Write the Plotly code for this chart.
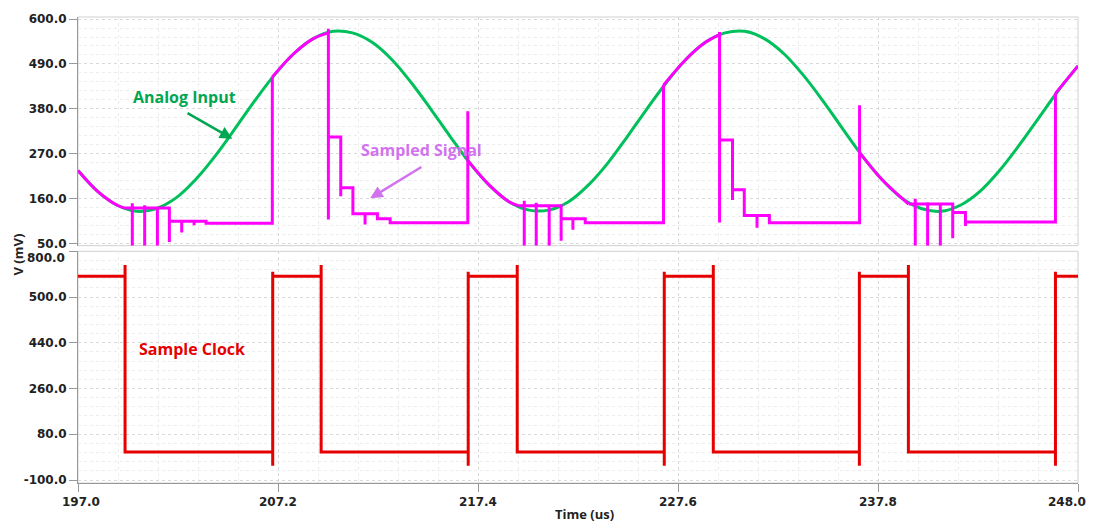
import plotly.graph_objects as go

# ---------------- data ----------------
# Analog input (green), sampled every 1 us
analog_t = list(range(197, 249))
analog_v = [229, 178, 144, 129, 136, 162, 207, 265, 331, 399, 462, 515, 552, 570,
            566, 543, 501, 444, 379, 311, 246, 192, 152, 132, 132, 152, 192, 246,
            311, 379, 444, 501, 543, 566, 570, 552, 515, 462, 399, 331, 265, 207,
            162, 136, 129, 144, 178, 229, 291, 358, 425, 485]

# Sampled signal (magenta): tracking segments (follow the input)
track1_t = [197, 198, 199, 199.4]
track1_v = [229, 178, 144, 137]
track2_t = [206.91, 208, 209, 209.77]
track2_v = [458, 515, 552, 566]
track3_t = [216.88, 218, 219, 219.45]
track3_v = [254, 192, 152, 143]
track4_t = [226.86, 228, 229, 229.72]
track4_v = [438, 501, 543, 562]
track5_t = [236.86, 238, 239, 239.36]
track5_v = [273, 207, 162, 147]
track6_t = [246.85, 247.5, 248]
track6_v = [418, 456, 485]

# Sampled signal: hold segments (steps)
hold1_t = [199.4, 201.66, 201.66, 201.66, 202.29, 202.29, 202.29, 202.92, 202.92,
           202.92, 203.53, 203.53, 206.91, 206.91]
hold1_v = [137, 137, 54, 105, 105, 77, 105, 105, 95, 105, 105, 100, 100, 458]
hold2_t = [209.77, 209.77, 209.77, 209.77, 210.40, 210.40, 210.40, 211.02, 211.02,
           211.64, 211.64, 211.64, 212.27, 212.27, 212.92, 212.92, 216.88, 216.88,
           216.88]
hold2_v = [566, 576, 109, 311, 311, 166, 187, 187, 123, 123, 97, 123, 123, 111,
           111, 101, 101, 374, 254]
hold3_t = [219.45, 221.64, 221.64, 221.64, 222.24, 222.24, 222.24, 222.87, 222.87,
           226.86, 226.86]
hold3_v = [143, 143, 57, 111, 111, 84, 111, 111, 101, 101, 438]
hold4_t = [229.72, 229.72, 229.72, 229.72, 230.38, 230.38, 230.38, 230.98, 230.98,
           231.63, 231.63, 231.63, 232.26, 232.26, 236.86, 236.86, 236.86]
hold4_v = [562, 568, 102, 304, 304, 157, 182, 182, 119, 119, 89, 119, 119, 101,
           101, 389, 273]
hold5_t = [239.36, 241.61, 241.61, 241.61, 242.26, 242.26, 242.26, 246.85, 246.85]
hold5_v = [147, 147, 63, 126, 126, 93, 103, 103, 418]

# Switching spikes during hold
spike_t = [199.77, 200.40, 201.05, 219.76, 220.37, 221.03, 239.70, 240.33, 240.98]
spike_top = [149, 144, 138, 155, 150, 144, 160, 151, 148]
spike_bottom = [45, 45, 45, 45, 45, 45, 45, 45, 45]

# Sample clock (red)
clock_fall = [199.40, 209.40, 219.40, 229.40, 239.35]
clock_rise = [206.93, 216.90, 226.90, 236.85, 246.85]
clock_high = 702
clock_low = 10
clock_fall_peak = 746
clock_rise_peak = 720
clock_rise_dip = -44
t_start, t_end = 197, 248

# Tick labels
time_ticks = [197.0, 207.2, 217.4, 227.6, 237.8, 248.0]
top_ticks = [50, 160, 270, 380, 490, 600]
bottom_ticks = [-100, 80, 260, 440, 620, 800]
bottom_ticktext = ["-100.0", "80.0", "260.0", "440.0", "500.0", ""]

# ---------------- figure ----------------
GREEN = "#00c05c"
MAGENTA = "#ff00ff"
RED = "#e60000"
GRID = "#d9d9d9"
MINOR = "#ececec"

fig = go.Figure()

fig.add_trace(go.Scatter(x=analog_t, y=analog_v, mode="lines",
                         line=dict(color=GREEN, width=3, shape="spline"),
                         xaxis="x", yaxis="y", showlegend=False, hoverinfo="skip"))

for tt, vv in [(track1_t, track1_v), (track2_t, track2_v), (track3_t, track3_v),
               (track4_t, track4_v), (track5_t, track5_v), (track6_t, track6_v)]:
    fig.add_trace(go.Scatter(x=tt, y=vv, mode="lines",
                             line=dict(color=MAGENTA, width=3, shape="spline"),
                             xaxis="x", yaxis="y", showlegend=False, hoverinfo="skip"))

for tt, vv in [(hold1_t, hold1_v), (hold2_t, hold2_v), (hold3_t, hold3_v),
               (hold4_t, hold4_v), (hold5_t, hold5_v)]:
    fig.add_trace(go.Scatter(x=tt, y=vv, mode="lines",
                             line=dict(color=MAGENTA, width=3),
                             xaxis="x", yaxis="y", showlegend=False, hoverinfo="skip"))

sx, sy = [], []
for t, top, bot in zip(spike_t, spike_top, spike_bottom):
    sx += [t, t, None]
    sy += [top, bot, None]
fig.add_trace(go.Scatter(x=sx, y=sy, mode="lines", line=dict(color=MAGENTA, width=3),
                         xaxis="x", yaxis="y", showlegend=False, hoverinfo="skip"))

cx, cy = [t_start], [clock_high]
for f, r in zip(clock_fall, clock_rise):
    cx += [f, f, f, r, r, r, r]
    cy += [clock_high, clock_fall_peak, clock_low, clock_low, clock_rise_dip,
           clock_rise_peak, clock_high]
cx.append(t_end)
cy.append(clock_high)
fig.add_trace(go.Scatter(x=cx, y=cy, mode="lines", line=dict(color=RED, width=3),
                         xaxis="x2", yaxis="y2", showlegend=False, hoverinfo="skip"))

tickfont = dict(family="DejaVu Sans", size=12, color="#222222", weight="bold")

# end labels are placed as annotations (shifted inward like the reference)
x_ticktext = [f"{v:.1f}" for v in time_ticks]
x_ticktext_axis = [""] + x_ticktext[1:-1] + [""]

common_x = dict(range=[t_start, t_end], tickvals=time_ticks,
                showgrid=True, gridcolor=GRID, griddash="dot", gridwidth=1,
                minor=dict(tickmode="linear", tick0=197, dtick=2.04, showgrid=True,
                           gridcolor=MINOR, griddash="dot"),
                zeroline=False, fixedrange=True)

# page body adds an 8px offset: plot area in figure coords is x 70..1070, y 4..475
fig.update_layout(
    width=1094, height=523,
    margin=dict(l=70, r=24, t=4, b=48),
    paper_bgcolor="white", plot_bgcolor="white",
    xaxis=dict(common_x, domain=[0, 1], anchor="y", showticklabels=False, ticks="",
               ticktext=x_ticktext_axis),
    yaxis=dict(domain=[0.5093, 1], range=[45, 605], tickvals=top_ticks,
               ticktext=[f"{v:.1f}" for v in top_ticks], tickfont=tickfont,
               ticklabeloverflow="allow",
               ticks="outside", ticklen=8, tickcolor="#999999",
               showline=True, linecolor="#999999", linewidth=1,
               showgrid=True, gridcolor=GRID, griddash="dot",
               minor=dict(tickmode="linear", tick0=50, dtick=22, showgrid=True,
                          gridcolor=MINOR, griddash="dot"),
               zeroline=False),
    xaxis2=dict(common_x, domain=[0, 1], anchor="y2", tickfont=tickfont,
                ticktext=x_ticktext_axis, ticklabeloverflow="allow",
                ticks="outside", ticklen=8, tickcolor="#999999",
                showline=True, linecolor="#999999", linewidth=1),
    yaxis2=dict(domain=[0, 0.4972], range=[-111.7, 800], tickvals=bottom_ticks,
                ticktext=bottom_ticktext, tickfont=tickfont,
                ticklabeloverflow="allow",
                ticks="outside", ticklen=8, tickcolor="#999999",
                showline=True, linecolor="#999999", linewidth=1,
                showgrid=True, gridcolor=GRID, griddash="dot",
                minor=dict(tickmode="linear", tick0=-100, dtick=36, showgrid=True,
                           gridcolor=MINOR, griddash="dot"),
                zeroline=False),
)

# light frames around the plot areas
for xr, yr in [("x domain", "y domain"), ("x2 domain", "y2 domain")]:
    fig.add_shape(type="rect", xref=xr, yref=yr, x0=0, x1=1, y0=0, y1=1,
                  line=dict(color="#d0d0d0", width=1), layer="below")

# end tick labels of the time axis
fig.add_annotation(x=time_ticks[0], y=0, xref="x2", yref="paper", text=x_ticktext[0],
                   xanchor="center", yanchor="top", yshift=-10, xshift=3,
                   showarrow=False, font=tickfont)
fig.add_annotation(x=time_ticks[-1], y=0, xref="x2", yref="paper", text=x_ticktext[-1],
                   xanchor="right", yanchor="top", yshift=-10, xshift=10,
                   showarrow=False, font=tickfont)

annfont = dict(family="Open Sans", weight="bold")
fig.add_annotation(x=202.44, y=409, xref="x", yref="y", text="Analog Input",
                   showarrow=False, font=dict(annfont, size=16, color="#00a650"))
fig.add_annotation(x=204.87, y=307, ax=202.51, ay=371.5, xref="x", yref="y",
                   axref="x", ayref="y", text="", showarrow=True, arrowhead=2,
                   arrowsize=1, arrowwidth=2.5, arrowcolor="#00a650")
fig.add_annotation(x=214.53, y=280, xref="x", yref="y", text="Sampled Signal",
                   showarrow=False, font=dict(annfont, size=16, color="#d173ee"))
fig.add_annotation(x=211.90, y=161, ax=214.59, ay=240, xref="x", yref="y",
                   axref="x", ayref="y", text="", showarrow=True, arrowhead=2,
                   arrowsize=1, arrowwidth=2.5, arrowcolor="#d173ee")
fig.add_annotation(x=202.79, y=414, xref="x2", yref="y2", text="Sample Clock",
                   showarrow=False, font=dict(annfont, size=16, color=RED))
fig.add_annotation(x=0.506, y=-0.0658, xref="paper", yref="paper", text="Time (us)",
                   xanchor="center", yanchor="middle", showarrow=False,
                   font=dict(annfont, size=13, color="#222222"))
fig.add_annotation(x=-0.060, y=0.4904, xref="paper", yref="paper", text="V (mV)",
                   textangle=-90, xanchor="center", yanchor="middle", showarrow=False,
                   font=dict(annfont, size=13, color="#222222"))
fig.add_annotation(x=0, y=(475 - 248) / 471, xref="paper", yref="paper", text="800.0",
                   xanchor="right", yanchor="middle", xshift=-11, showarrow=False,
                   font=tickfont)

fig.write_html("out.html")
